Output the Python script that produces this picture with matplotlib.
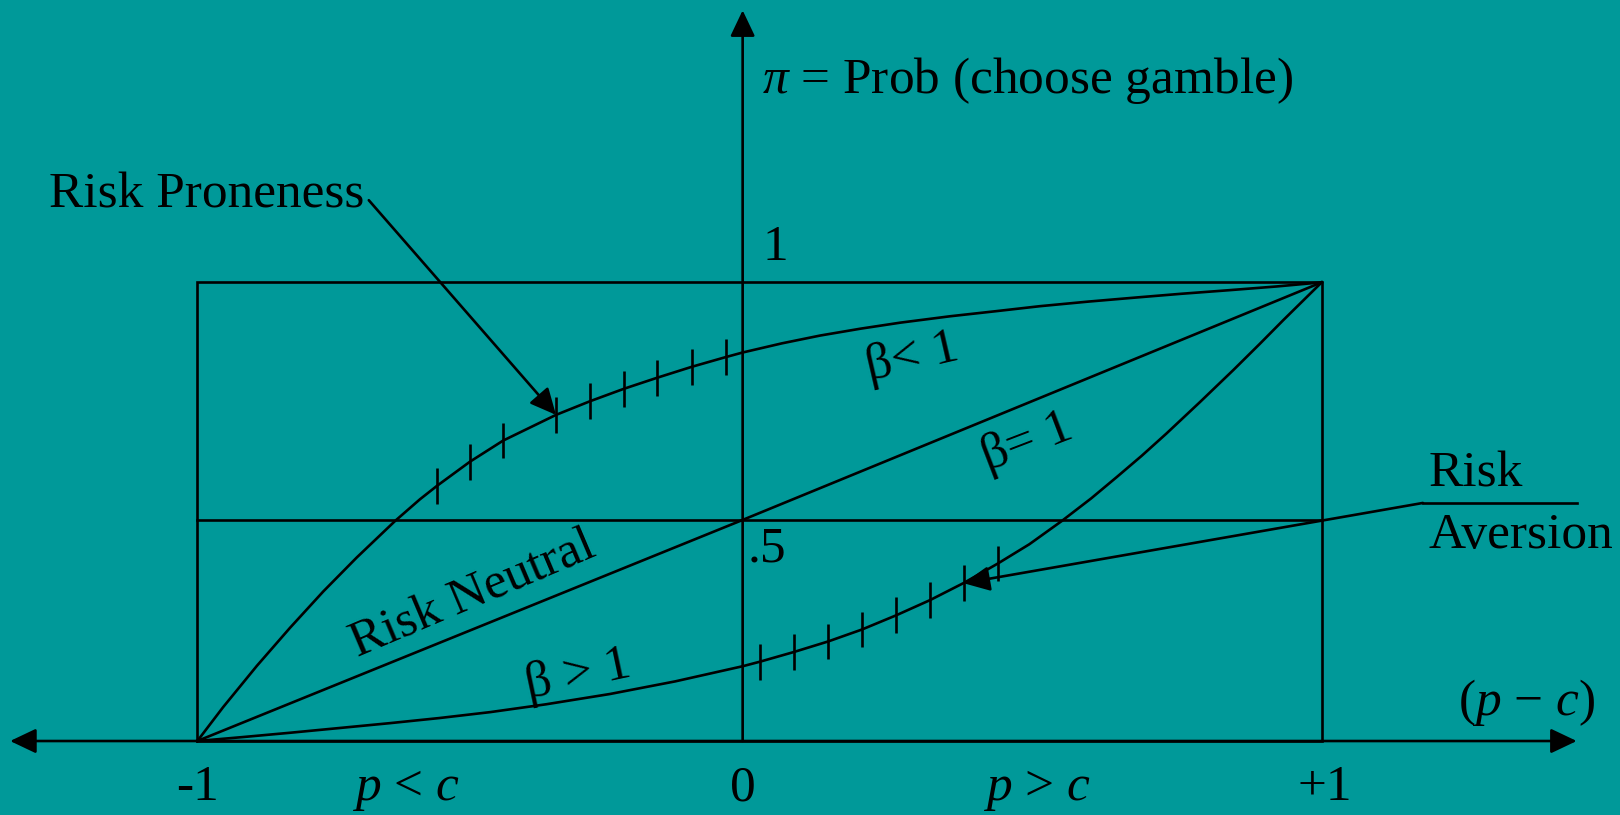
import numpy as np
import matplotlib
matplotlib.use('Agg')
import matplotlib.pyplot as plt
from matplotlib.patches import Rectangle

plt.rcParams['font.family'] = ['Liberation Serif', 'DejaVu Serif']
plt.rcParams['mathtext.fontset'] = 'custom'
plt.rcParams['mathtext.rm'] = 'Liberation Serif'
plt.rcParams['mathtext.it'] = 'Liberation Serif:italic'

BG = '#009999'

# box: (p - c) from -1 to +1, pi from 0 to 1
x_lo, x_hi = -1.0, 1.0
pi_lo, pi_hi = 0.0, 1.0
y_axis_x = -0.030     # where the vertical axis sits
half_line = 0.482     # the ".5" line as drawn

# beta < 1 (risk proneness)
b_lt_x = [-1.0, -0.954, -0.894, -0.835, -0.776, -0.7165, -0.648, -0.604, -0.574,
          -0.515, -0.456, -0.362, -0.301, -0.241, -0.182, -0.120, -0.060, -0.030,
          0.04, 0.108, 0.18, 0.25, 0.339, 0.42, 0.499, 0.585, 0.671, 0.75, 0.837,
          0.92, 1.0]
b_lt_y = [0.0, 0.074, 0.164, 0.247, 0.326, 0.400, 0.480, 0.527, 0.556,
          0.609, 0.655, 0.711, 0.741, 0.768, 0.792, 0.816, 0.837, 0.847,
          0.867, 0.884, 0.899, 0.912, 0.926, 0.937, 0.948, 0.958, 0.967, 0.975, 0.983,
          0.991, 1.0]
b_lt_ticks = [-0.574, -0.515, -0.456, -0.362, -0.301, -0.241, -0.182, -0.120, -0.060]

# beta = 1 (risk neutral)
b_eq_x = [-1.0, y_axis_x, 1.0]
b_eq_y = [0.0, half_line, 1.0]

# beta > 1 (risk aversion)
b_gt_x = [-1.0, -0.92, -0.835, -0.75, -0.657, -0.57, -0.479, -0.38, -0.266, -0.15,
          -0.030, 0.001, 0.061, 0.122, 0.182, 0.243, 0.303, 0.364, 0.424, 0.48,
          0.538, 0.59, 0.635, 0.68, 0.7235, 0.7835, 0.843, 0.89, 0.932, 1.0]
b_gt_y = [0.0, 0.0085, 0.018, 0.028, 0.039, 0.050, 0.063, 0.080, 0.1025, 0.130,
          0.163, 0.173, 0.194, 0.217, 0.243, 0.274, 0.307, 0.345, 0.387, 0.429,
          0.480, 0.529, 0.575, 0.622, 0.670, 0.739, 0.809, 0.866, 0.918, 1.0]
b_gt_ticks = [0.001, 0.061, 0.122, 0.182, 0.243, 0.303, 0.364, 0.424]

tick_half = 0.039
lw = 1.9

fig = plt.figure(figsize=(16.2, 8.15), dpi=100, facecolor=BG)
ax = fig.add_axes([0, 0, 1, 1])
ax.set_facecolor(BG)
ax.set_xlim(-1.351, 1.5306)
ax.set_ylim(-0.1613, 1.6155)
ax.axis('off')

head = dict(arrowstyle='-|>,head_length=0.8,head_width=0.38', mutation_scale=20,
            color='black', lw=lw, shrinkA=0, shrinkB=0)
head2 = dict(head, arrowstyle='<|-|>,head_length=0.8,head_width=0.38')

# axes with arrows
ax.annotate('', xy=(1.4536, 0), xytext=(-1.333, 0), arrowprops=head2)
ax.annotate('', xy=(y_axis_x, 1.593), xytext=(y_axis_x, 0), arrowprops=head)

# box and half line
ax.add_patch(Rectangle((x_lo, pi_lo), x_hi - x_lo, pi_hi - pi_lo, fill=False,
                       ec='black', lw=lw))
ax.plot([x_lo, x_hi], [half_line, half_line], color='black', lw=lw)

# curves
ax.plot(b_lt_x, b_lt_y, color='black', lw=lw)
ax.plot(b_eq_x, b_eq_y, color='black', lw=lw)
ax.plot(b_gt_x, b_gt_y, color='black', lw=lw)

for tx, cx, cy in [(b_lt_ticks, b_lt_x, b_lt_y), (b_gt_ticks, b_gt_x, b_gt_y)]:
    ty = np.interp(tx, cx, cy)
    ax.vlines(tx, ty - tick_half, ty + tick_half, color='black', lw=lw)

# annotation arrows
ax.annotate('', xy=(-0.362, 0.711), xytext=(-0.695, 1.179), arrowprops=head)
ax.plot([1.454, 1.180], [0.519, 0.519], color='black', lw=lw)
ax.annotate('', xy=(0.363, 0.344), xytext=(1.180, 0.519), arrowprops=head)

fs = 37
ax.text(0.0045, 1.4127, r'$\pi$ = Prob (choose gamble)', fontsize=fs, va='baseline')
ax.text(0.0285, 1.048, '1', fontsize=fs, ha='center', va='baseline')
ax.text(-0.022, 0.391, '.5', fontsize=fs, va='baseline')
ax.text(-1.264, 1.164, 'Risk Proneness', fontsize=fs, va='baseline')
ax.text(0.272, 0.835, 'β< 1', fontsize=fs, ha='center', va='center',
        rotation=13, rotation_mode='anchor')
ax.text(0.476, 0.652, 'β= 1', fontsize=fs, ha='center', va='center',
        rotation=21, rotation_mode='anchor')
ax.text(-0.509, 0.318, 'Risk Neutral', fontsize=fs, ha='center', va='center',
        rotation=23, rotation_mode='anchor')
ax.text(-0.322, 0.145, 'β > 1', fontsize=fs, ha='center', va='center',
        rotation=12, rotation_mode='anchor')
ax.text(1.19, 0.554, 'Risk', fontsize=fs, va='baseline')
ax.text(1.19, 0.4208, 'Aversion', fontsize=fs, va='baseline')
ax.text(1.243, 0.0567, '($p$ − $c$)', fontsize=fs, va='baseline')

bottom_pos = [-1.0, -0.630, y_axis_x, 0.4935, 1.006]
bottom_txt = ['-1', r'$p$ < $c$', '0', r'$p$ > $c$', '+1']
for bx, bt in zip(bottom_pos, bottom_txt):
    ax.text(bx, -0.1286, bt, fontsize=fs, ha='center', va='baseline')

fig.savefig('out.png', dpi=100, facecolor=BG)
